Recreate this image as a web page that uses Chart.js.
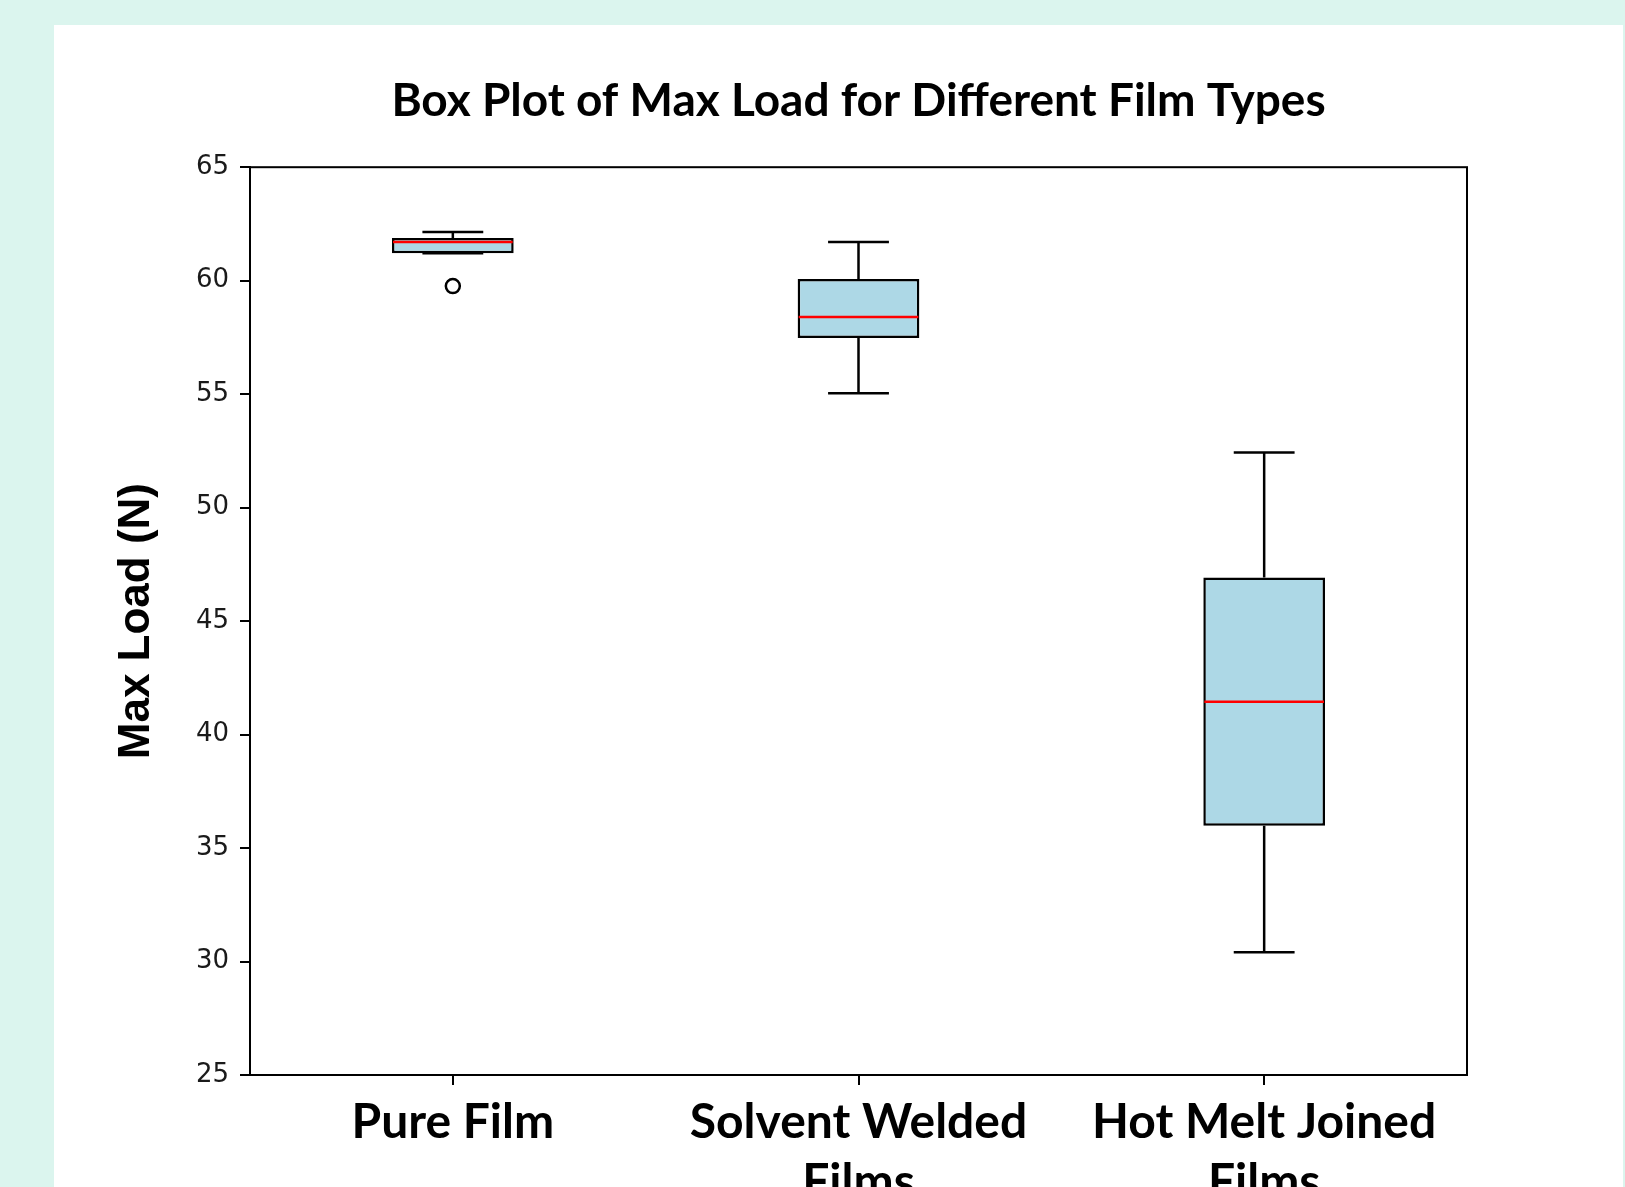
<!DOCTYPE html>
<html lang="en">
<head>
<meta charset="UTF-8">
<title>Box Plot of Max Load for Different Film Types</title>
<script src="https://cdn.jsdelivr.net/npm/chart.js"></script>
<style>
    html, body {
        margin: 0;
        padding: 0;
        width: 1625px;
        height: 1187px;
        overflow: hidden;
        background: #dbf5ee;
    }
    #card {
        position: absolute;
        left: 54px;
        top: 25px;
        width: 1569px;
        height: 1300px;
        background: #fff;
    }
    #wrap {
        position: absolute;
        left: 0;
        top: 0;
        width: 1625px;
        height: 1240px;
    }
</style>
</head>
<body>
<div id="card"></div>
<div id="wrap"><canvas id="boxChart"></canvas></div>
<script>
    // box plot values
    const categories = [['Pure Film'], ['Solvent Welded', 'Films'], ['Hot Melt Joined', 'Films']];
    const whiskerLow = [61.21, 55.04, 30.41];
    const q1 = [61.21, 57.47, 35.98];
    const median = [61.70, 58.40, 41.45];
    const q3 = [61.88, 60.07, 46.92];
    const whiskerHigh = [62.14, 61.70, 52.43];
    const outliers = [59.76, null, null];

    const yMin = 25;
    const yMax = 65;
    const yStep = 5;

    // whiskers, caps and medians on top of the floating bars
    const boxParts = {
        id: 'boxParts',
        afterDatasetsDraw(chart) {
            const { ctx, scales: { x, y } } = chart;
            const bars = chart.getDatasetMeta(0).data;
            ctx.save();
            bars.forEach((bar, i) => {
                const cx = x.getPixelForValue(i);
                const half = bar.width / 2;
                const cap = half / 2;
                ctx.strokeStyle = '#000';
                ctx.lineWidth = 2.5;
                ctx.beginPath();
                ctx.moveTo(cx, y.getPixelForValue(q3[i]));
                ctx.lineTo(cx, y.getPixelForValue(whiskerHigh[i]));
                ctx.moveTo(cx, y.getPixelForValue(q1[i]));
                ctx.lineTo(cx, y.getPixelForValue(whiskerLow[i]));
                ctx.moveTo(cx - cap, y.getPixelForValue(whiskerHigh[i]));
                ctx.lineTo(cx + cap, y.getPixelForValue(whiskerHigh[i]));
                ctx.moveTo(cx - cap, y.getPixelForValue(whiskerLow[i]));
                ctx.lineTo(cx + cap, y.getPixelForValue(whiskerLow[i]));
                ctx.stroke();

                ctx.strokeStyle = '#ff0000';
                ctx.lineWidth = 2.5;
                ctx.beginPath();
                ctx.moveTo(cx - half + 1, y.getPixelForValue(median[i]));
                ctx.lineTo(cx + half - 1, y.getPixelForValue(median[i]));
                ctx.stroke();
            });
            // frame round the plot, like matplotlib spines
            const a = chart.chartArea;
            ctx.strokeStyle = '#000';
            ctx.lineWidth = 2;
            ctx.strokeRect(a.left, a.top, a.right - a.left, a.bottom - a.top);
            ctx.restore();
        }
    };

    const ctx = document.getElementById('boxChart').getContext('2d');
    new Chart(ctx, {
        type: 'bar',
        data: {
            labels: categories,
            datasets: [
                {
                    label: 'IQR',
                    data: q1.map((v, i) => [v, q3[i]]),
                    backgroundColor: '#add8e6',
                    borderColor: '#000',
                    borderWidth: 2.5,
                    borderSkipped: false,
                    barPercentage: 0.3,
                    categoryPercentage: 1,
                    order: 2
                },
                {
                    type: 'line',
                    label: 'Outliers',
                    data: outliers,
                    showLine: false,
                    pointRadius: 7,
                    pointBackgroundColor: '#fff',
                    pointBorderColor: '#000',
                    pointBorderWidth: 2.5,
                    order: 1
                }
            ]
        },
        options: {
            responsive: true,
            maintainAspectRatio: false,
            animation: false,
            layout: { padding: { left: 0, right: 158, top: 0, bottom: 0 } },
            plugins: {
                legend: { display: false },
                tooltip: { enabled: false },
                title: {
                    display: true,
                    text: 'Box Plot of Max Load for Different Film Types',
                    color: '#000',
                    fullSize: false,
                    font: { family: 'Lato', weight: 'bold', size: 46 },
                    padding: { top: 74, bottom: 38 }
                }
            },
            scales: {
                x: {
                    offset: true,
                    grid: {
                        drawOnChartArea: false,
                        offset: false,
                        tickLength: 10,
                        color: '#000',
                        lineWidth: 2
                    },
                    border: { display: true, color: '#000', width: 2 },
                    ticks: {
                        color: '#000',
                        font: { family: 'Lato', weight: 'bold', size: 48, lineHeight: 1.26 },
                        padding: 7,
                        maxRotation: 0,
                        minRotation: 0,
                        autoSkip: false
                    },
                    afterFit: (scale) => { scale.height = 165; }
                },
                y: {
                    min: yMin,
                    max: yMax,
                    grid: {
                        drawOnChartArea: false,
                        tickLength: 10,
                        color: '#000',
                        lineWidth: 2
                    },
                    border: { display: true, color: '#000', width: 2 },
                    ticks: {
                        stepSize: yStep,
                        color: '#1a1a1a',
                        font: { family: 'DejaVu Sans', size: 26 },
                        padding: 11
                    },
                    title: {
                        display: true,
                        text: 'Max Load (N)',
                        color: '#000',
                        font: { family: 'Liberation Sans', weight: 'bold', size: 44 },
                        padding: { top: 110, bottom: 0 }
                    },
                    afterFit: (scale) => { scale.width = 250; }
                }
            }
        },
        plugins: [boxParts]
    });
</script>
</body>
</html>
